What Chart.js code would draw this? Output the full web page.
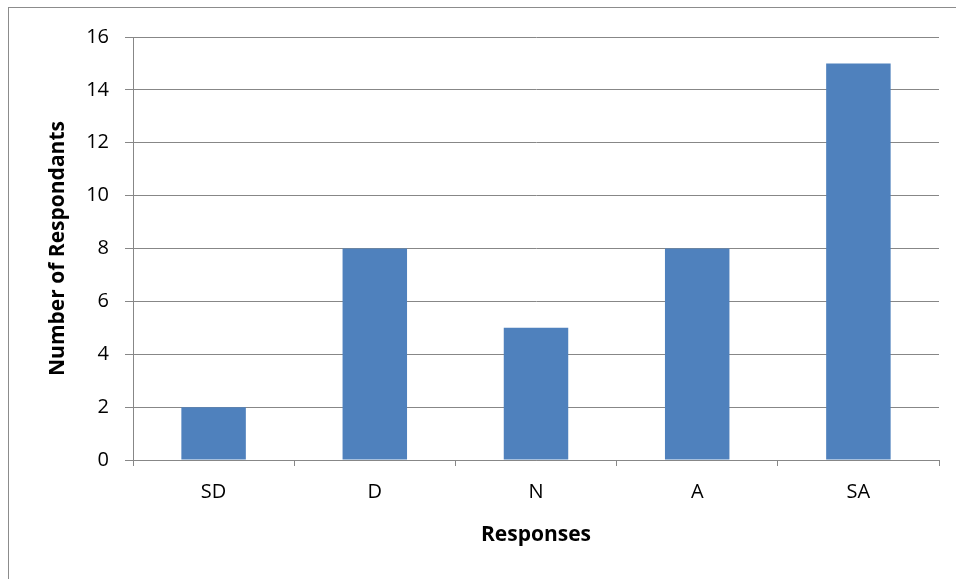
<!DOCTYPE html>
<html>
<head>
<meta charset="utf-8">
<script src="https://cdn.jsdelivr.net/npm/chart.js@4/dist/chart.umd.min.js"></script>
<style>
  html, body { margin: 0; padding: 0; background: #fff; }
  #wrap { width: 956px; height: 579px; }
</style>
</head>
<body>
<div id="wrap"><canvas id="responsesChart"></canvas></div>
<script>
// Survey responses (Likert scale)
const categories = ['SD', 'D', 'N', 'A', 'SA'];
const respondents = [2, 8, 5, 8, 15];
const yTicks = [0, 2, 4, 6, 8, 10, 12, 14, 16];

const gridGray = '#878787';
const fontFamily = "'Open Sans', 'Noto Sans', sans-serif";

// Outer frame like the spreadsheet chart area
const framePlugin = {
  id: 'frame',
  beforeDraw(chart) {
    const ctx = chart.ctx;
    ctx.save();
    ctx.strokeStyle = '#8c8c8c';
    ctx.lineWidth = 1;
    ctx.strokeRect(8.5, 7.5, 2000, 2000);
    ctx.restore();
  }
};

const ctx = document.getElementById('responsesChart').getContext('2d');
new Chart(ctx, {
  type: 'bar',
  data: {
    labels: categories,
    datasets: [{
      data: respondents,
      backgroundColor: '#4F81BD',
      borderWidth: 0,
      categoryPercentage: 1,
      barPercentage: 0.4
    }]
  },
  options: {
    responsive: true,
    maintainAspectRatio: false,
    animation: false,
    layout: { padding: { top: 37, right: 17, left: 0, bottom: 0 } },
    plugins: {
      legend: { display: false },
      tooltip: { enabled: false }
    },
    scales: {
      x: {
        afterFit(scale) { scale.height = 119; },
        grid: {
          offset: true,
          drawOnChartArea: false,
          drawTicks: true,
          tickLength: 6,
          color: gridGray
        },
        border: { color: gridGray, width: 1 },
        ticks: { color: '#000', font: { family: fontFamily, size: 20 }, padding: 14 },
        title: {
          display: true,
          text: 'Responses',
          color: '#000',
          font: { family: fontFamily, size: 21, weight: 'bold' },
          padding: { top: 0, bottom: 31 }
        }
      },
      y: {
        min: 0,
        max: 16,
        afterFit(scale) { scale.width = 133; },
        afterBuildTicks(scale) { scale.ticks = yTicks.map(v => ({ value: v })); },
        grid: { color: gridGray, tickLength: 8, drawTicks: true },
        border: { color: gridGray, width: 1 },
        ticks: { color: '#000', font: { family: fontFamily, size: 20 }, padding: 16 },
        title: {
          display: true,
          text: 'Number of Respondants',
          color: '#000',
          font: { family: fontFamily, size: 21, weight: 'bold' },
          padding: { top: 45, bottom: 0 }
        }
      }
    }
  },
  plugins: [framePlugin]
});
</script>
</body>
</html>
